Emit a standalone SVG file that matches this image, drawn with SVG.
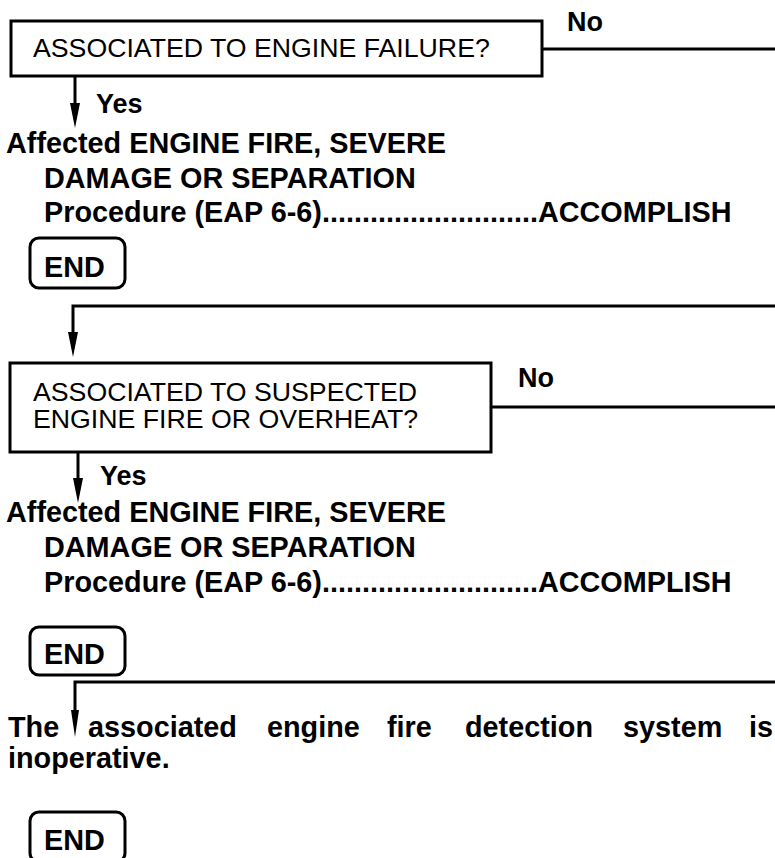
<svg xmlns="http://www.w3.org/2000/svg" width="775" height="858" viewBox="0 0 775 858">
<defs>
<style>
.box{fill:none;stroke:#000;stroke-width:3}
.end{fill:none;stroke:#000;stroke-width:3}
.ln{fill:none;stroke:#000;stroke-width:3}
.q{font-family:"Liberation Sans",Arial,sans-serif;font-size:26.7px;fill:#000}
.b{font-family:"Liberation Sans",Arial,sans-serif;font-size:28.8px;font-weight:bold;fill:#000}
.lbl{font-family:"Liberation Sans",Arial,sans-serif;font-size:27px;font-weight:bold;fill:#000}
</style>
</defs>
<rect width="775" height="858" fill="#fff"/>
<g id="connectors">
<line class="ln" x1="542" y1="49" x2="775" y2="49"/>
<line class="ln" x1="491" y1="407" x2="775" y2="407"/>
<path class="ln" d="M75,77 V103"/>
<polygon points="70,103 80,103 75,128"/>
<path class="ln" d="M775,306 H73 V332"/>
<polygon points="68,332 78,332 73,357"/>
<path class="ln" d="M78,452 V478"/>
<polygon points="73,478 83,478 78,503"/>
<path class="ln" d="M775,682 H75 V710"/>
<polygon points="71,710 79,710 75,737"/>
</g>
<g id="q1">
<rect class="box" x="11" y="21" width="531" height="55"/>
<text class="q" x="33" y="57">ASSOCIATED TO ENGINE FAILURE?</text>
</g>
<g id="no1"><text class="lbl" x="567" y="31">No</text></g>
<g id="yes1"><text class="lbl" x="96" y="113">Yes</text></g>
<g id="act1">
<text class="b" x="6" y="153">Affected ENGINE FIRE, SEVERE</text>
<text class="b" x="44" y="188">DAMAGE OR SEPARATION</text>
<text class="b" x="44" y="222">Procedure (EAP 6-6)...........................ACCOMPLISH</text>
</g>
<g id="end1">
<rect class="end" x="30" y="238" width="95" height="50" rx="9"/>
<text class="b" x="44" y="277">END</text>
</g>
<g id="q2">
<rect class="box" x="10" y="363" width="481" height="89"/>
<text class="q" x="33" y="401">ASSOCIATED TO SUSPECTED</text>
<text class="q" x="33" y="428">ENGINE FIRE OR OVERHEAT?</text>
</g>
<g id="no2"><text class="lbl" x="518" y="387">No</text></g>
<g id="yes2"><text class="lbl" x="100" y="485">Yes</text></g>
<g id="act2">
<text class="b" x="6" y="522">Affected ENGINE FIRE, SEVERE</text>
<text class="b" x="44" y="557">DAMAGE OR SEPARATION</text>
<text class="b" x="44" y="592">Procedure (EAP 6-6)...........................ACCOMPLISH</text>
</g>
<g id="end2">
<rect class="end" x="30" y="627" width="95" height="48" rx="9"/>
<text class="b" x="44" y="664">END</text>
</g>
<g id="msg">
<text class="b" y="737"><tspan x="8">The</tspan><tspan x="88">associated</tspan><tspan x="267">engine</tspan><tspan x="387">fire</tspan><tspan x="465">detection</tspan><tspan x="623">system</tspan><tspan x="749">is</tspan></text>
<text class="b" x="8" y="768">inoperative.</text>
</g>
<g id="end3">
<rect class="end" x="30" y="812" width="95" height="50" rx="9"/>
<text class="b" x="44" y="850">END</text>
</g>
</svg>
